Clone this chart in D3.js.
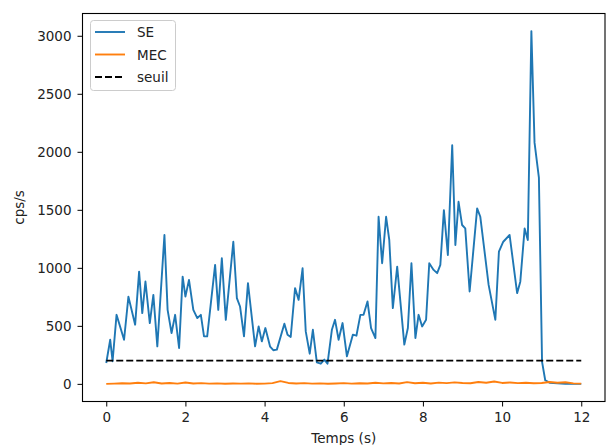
<!DOCTYPE html>
<html><head><meta charset="utf-8">
<script src="https://cdn.jsdelivr.net/npm/d3@7"></script>
<style>body{margin:0;background:#fff}svg{display:block}text{font-family:"DejaVu Sans",sans-serif}</style>
</head><body><svg id="c" width="612" height="445"></svg>
<script>
// SE series (time in s, value in cps/s)
const seTime = [0,0.1,0.16,0.26,0.45,0.56,0.73,0.83,0.91,0.99,1.1,1.19,1.29,1.47,1.55,1.65,1.74,1.84,1.93,2.0,
 2.09,2.2,2.3,2.39,2.47,2.55,2.75,2.83,2.92,3.02,3.21,3.30,3.38,3.48,3.58,3.76,3.85,3.93,4.02,4.14,
 4.22,4.31,4.50,4.58,4.66,4.77,4.86,4.96,5.04,5.14,5.22,5.32,5.42,5.51,5.59,5.70,5.78,5.87,5.97,6.08,
 6.23,6.32,6.42,6.50,6.60,6.69,6.80,6.88,6.97,7.07,7.15,7.24,7.35,7.53,7.62,7.71,7.81,7.89,7.98,8.08,
 8.16,8.27,8.36,8.44,8.53,8.63,8.74,8.82,8.90,8.99,9.07,9.18,9.37,9.45,9.66,9.83,9.92,10.03,10.19,10.38,
 10.46,10.57,10.65,10.74,10.82,10.93,11.01,11.09,11.2,11.4,11.6,11.8,12.0];
const seValues = [180,380,195,595,380,752,510,967,610,882,524,767,323,1283,638,438,595,309,924,752,
 896,638,567,595,409,409,1025,638,1082,552,1225,739,667,409,868,323,495,366,481,320,
 290,295,518,424,404,825,724,996,452,260,466,186,174,209,174,466,552,380,524,237,
 424,415,595,595,710,481,395,1440,1040,1440,1240,653,1010,338,481,1040,395,595,495,552,
 1040,982,954,1025,1497,1111,2056,1197,1569,1369,1340,796,1512,1440,853,552,1139,1225,1283,782,
 881,1340,1240,3040,2079,1778,189,31,10,5,0,0,0];
// MEC series
const mecTime = [0,0.2,0.4,0.6,0.8,1.0,1.2,1.4,1.6,1.8,2.0,2.2,2.4,2.6,2.8,3.0,3.2,3.4,3.6,3.8,
 4.0,4.2,4.4,4.6,4.8,5.0,5.2,5.4,5.6,5.8,6.0,6.2,6.4,6.6,6.8,7.0,7.2,7.4,7.6,7.8,
 8.0,8.2,8.4,8.6,8.8,9.0,9.2,9.4,9.6,9.8,10.0,10.2,10.4,10.6,10.8,11.0,11.2,11.4,11.6,11.8,12.0];
const mecValues = [0,2,5,3,10,4,14,3,8,2,12,3,6,2,4,1,3,2,4,1,
 2,6,24,8,3,6,2,4,1,3,6,2,5,3,10,4,8,3,15,5,
 9,3,11,6,13,8,5,16,10,20,8,12,6,9,5,8,16,10,14,4,2];
// threshold
const seuilTime = [0,12];
const seuilValues = [200,200];
const xTicks = [0,2,4,6,8,10,12];
const yTicks = [0,500,1000,1500,2000,2500,3000];
const legendLabels = ["SE","MEC","seuil"];

const svg = d3.select("#c");
const L=82.5, R=605, T=13.5, B=401.5;
const x = d3.scaleLinear().domain([-0.6,12.6]).range([L,R]);
const y = d3.scaleLinear().domain([-152,3192]).range([B,T]);

const line = d3.line().x(d=>x(d[0])).y(d=>y(d[1]));
const zip=(a,b)=>a.map((v,i)=>[v,b[i]]);
const LW = 1.9, DASH = "7,3";

const g = svg.append("g");
g.append("path").datum(zip(seTime,seValues)).attr("d",line)
 .attr("fill","none").attr("stroke","#1f77b4").attr("stroke-width",LW).attr("stroke-linejoin","round");
g.append("path").datum(zip(mecTime,mecValues)).attr("d",line)
 .attr("fill","none").attr("stroke","#ff7f0e").attr("stroke-width",LW).attr("stroke-linejoin","round");
g.append("path").datum(zip(seuilTime,seuilValues)).attr("d",line)
 .attr("fill","none").attr("stroke","#000").attr("stroke-width",LW).attr("stroke-dasharray",DASH);

// axes
const xa = svg.append("g").attr("transform",`translate(0,${B})`)
 .call(d3.axisBottom(x).tickValues(xTicks).tickSize(5).tickPadding(6).tickFormat(d3.format("d")));
const ya = svg.append("g").attr("transform",`translate(${L},0)`)
 .call(d3.axisLeft(y).tickValues(yTicks).tickSize(5).tickPadding(6).tickFormat(d3.format("d")));
[xa,ya].forEach(a=>{a.select(".domain").remove();
 a.selectAll("text").attr("font-size",13.5).attr("fill","#222").attr("font-family","DejaVu Sans");
 a.selectAll("line").attr("stroke","#000").attr("stroke-width",1);});

// frame
svg.append("rect").attr("x",L).attr("y",T).attr("width",R-L).attr("height",B-T)
 .attr("fill","none").attr("stroke","#000").attr("stroke-width",1.1);

// labels
svg.append("text").attr("x",(L+R)/2).attr("y",443).attr("text-anchor","middle")
 .attr("font-size",13.5).attr("fill","#222").text("Temps (s)");
svg.append("text").attr("transform",`translate(24,${(T+B)/2}) rotate(-90)`).attr("text-anchor","middle")
 .attr("font-size",13.5).attr("fill","#222").text("cps/s");

// legend
const lg = svg.append("g");
lg.append("rect").attr("x",90.5).attr("y",20.5).attr("width",85).attr("height",70).attr("rx",3)
 .attr("fill","#fff").attr("fill-opacity",0.8).attr("stroke","#ccc");
const lc=["#1f77b4","#ff7f0e","#000"], ly=[32,54.5,77];
legendLabels.forEach((t,i)=>{
 lg.append("line").attr("x1",95).attr("x2",125).attr("y1",ly[i]).attr("y2",ly[i])
  .attr("stroke",lc[i]).attr("stroke-width",LW).attr("stroke-dasharray",i==2?DASH:null);
 lg.append("text").attr("x",137).attr("y",ly[i]+5).attr("font-size",13.5).attr("fill","#222").text(t);
});
</script></body></html>
